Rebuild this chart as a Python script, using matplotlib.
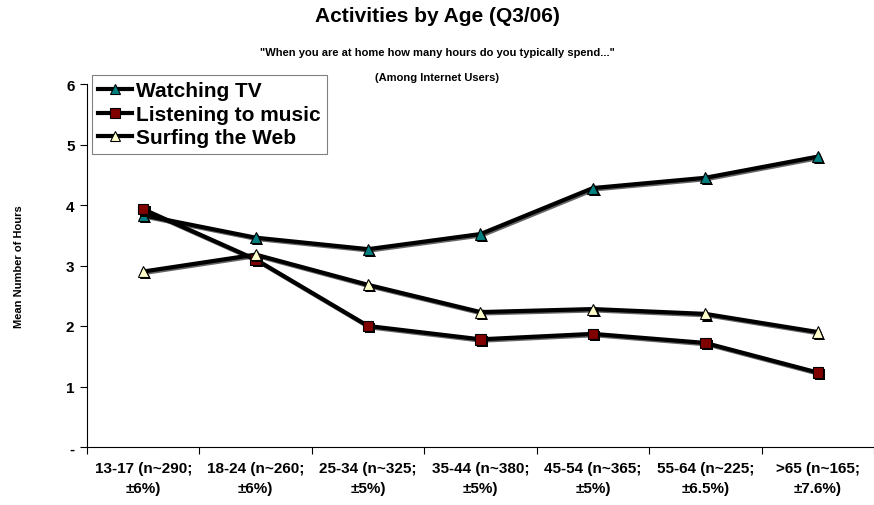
import matplotlib
matplotlib.use("Agg")
import matplotlib.pyplot as plt
import matplotlib.patheffects as pe
from matplotlib.lines import Line2D
import numpy as np

plt.rcParams['font.family'] = ['Liberation Sans', 'DejaVu Sans']

categories = ["13-17 (n~290;\n±6%)", "18-24 (n~260;\n±6%)", "25-34 (n~325;\n±5%)",
              "35-44 (n~380;\n±5%)", "45-54 (n~365;\n±5%)", "55-64 (n~225;\n±6.5%)",
              ">65 (n~165;\n±7.6%)"]
tv = [3.83, 3.46, 3.27, 3.52, 4.28, 4.45, 4.80]
music = [3.93, 3.10, 2.00, 1.78, 1.87, 1.72, 1.23]
web = [2.90, 3.18, 2.68, 2.23, 2.28, 2.20, 1.90]
series_names = ["Watching TV", "Listening to music", "Surfing the Web"]
yticks = [0, 1, 2, 3, 4, 5, 6]
ytick_labels = ["-", "1", "2", "3", "4", "5", "6"]

fig = plt.figure(figsize=(8.74, 5.06), dpi=100)
ax = fig.add_axes([87/874, 1-448/506, 1-87/874, (448-85)/506])

x = np.arange(len(categories))
styles = [(tv, '^', '#008080', 8), (music, 's', '#800000', 7.5), (web, '^', '#FFFFCC', 8)]
for (vals, mk, col, ms) in styles:
    ax.plot(x, vals, color='black', lw=3, zorder=2,
            path_effects=[pe.SimpleLineShadow(offset=(1, -1), shadow_color='black', alpha=0.6), pe.Normal()])
    ax.plot(x, vals, linestyle='none', marker=mk, ms=ms, mfc=col, mec='black', mew=0.8, zorder=3,
            path_effects=[pe.SimplePatchShadow(offset=(1.5, -1.5), shadow_rgbFace='black', alpha=1), pe.Normal()])

ax.set_xlim(-0.5, len(categories) - 0.5)
ax.set_ylim(0, 6)
ax.set_yticks(yticks)
ax.set_yticklabels(ytick_labels, fontsize=11, fontweight='bold')
ax.set_xticks(np.arange(len(categories) + 1) - 0.5)
ax.set_xticklabels([])
ax.set_xticks(x, minor=True)
ax.set_xticklabels(categories, minor=True, fontsize=11, fontweight='bold', linespacing=1.55)
ax.tick_params(axis='x', which='minor', length=0, pad=10)
ax.tick_params(axis='x', which='major', length=5, direction='out')
ax.tick_params(axis='y', length=5, direction='out', pad=4)
for s in ['top', 'right']:
    ax.spines[s].set_visible(False)
for s in ['left', 'bottom']:
    ax.spines[s].set_linewidth(0.8)

ax.set_ylabel("Mean Number of Hours", fontsize=8, fontweight='bold', labelpad=30)

fig.text(0.5, 1-17/506, "Activities by Age (Q3/06)", ha='center', va='center', fontsize=15, fontweight='bold')
fig.text(0.5, 1-53/506, "\"When you are at home how many hours do you typically spend...\"",
         ha='center', va='center', fontsize=8, fontweight='bold')
fig.text(0.5, 1-78/506, "(Among Internet Users)", ha='center', va='center', fontsize=8, fontweight='bold')

leg_handles = [Line2D([0], [0], color='black', lw=3, marker=mk, ms=ms - 1, mfc=col, mec='black', mew=0.8)
               for (vals, mk, col, ms) in styles]
leg = fig.legend(leg_handles, series_names, loc='upper left', bbox_to_anchor=(92/874, 1-76/506),
                 prop={'size': 15, 'weight': 'bold'}, frameon=True, fancybox=False,
                 handlelength=1.6, handletextpad=0.2, labelspacing=0.22, borderpad=0.3,
                 borderaxespad=0)
leg.get_frame().set_edgecolor('#606060')
leg.get_frame().set_linewidth(0.8)

fig.savefig("out.png", dpi=100)
